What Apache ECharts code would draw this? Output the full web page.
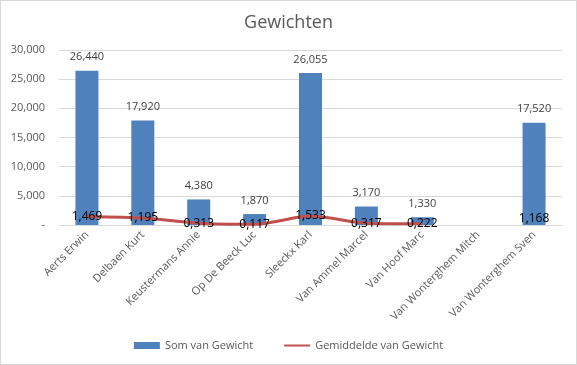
<!DOCTYPE html>
<html><head><meta charset="utf-8">
<script src="https://cdn.jsdelivr.net/npm/echarts@6/dist/echarts.min.js"></script>
<style>html,body{margin:0;padding:0;background:#fff}#c{width:575px;height:363px;border:1px solid #d9d9d9}</style>
</head><body><div id="c"></div>
<script>
const categories = ["Aerts Erwin","Delbaen Kurt","Keustermans Annie","Op De Beeck Luc","Sleeckx Karl","Van Ammel Marcel","Van Hoof Marc","Van Wonterghem Mitch","Van Wonterghem Sven"];
const somVanGewicht = [26440,17920,4380,1870,26055,3170,1330,null,17520];
const gemiddeldeVanGewicht = [1.469,1.195,0.313,0.117,1.533,0.317,0.222,null,1.168];
const yTicks = [0,5000,10000,15000,20000,25000,30000];

const chart = echarts.init(document.getElementById('c'));
const font = '"Open Sans", "Noto Sans", sans-serif';
chart.setOption({
  animation:false,
  textStyle:{fontFamily:font},
  title:{text:'Gewichten',left:'center',top:8,textStyle:{fontFamily:font,fontSize:18,fontWeight:'normal',color:'#595959'}},
  legend:{bottom:8,left:'center',itemGap:30,textStyle:{fontFamily:font,fontSize:11,color:'#595959'},
    data:[{name:'Som van Gewicht',icon:'rect'},{name:'Gemiddelde van Gewicht',itemStyle:{opacity:0}}],
    itemWidth:26,itemHeight:7},
  grid:{left:58,right:14,top:49,bottom:139},
  xAxis:{type:'category',data:categories,axisTick:{show:false},
    axisLine:{lineStyle:{color:'#d9d9d9'}},
    axisLabel:{rotate:45,interval:0,fontSize:11,color:'#595959',fontFamily:font,margin:8}},
  yAxis:[{type:'value',min:yTicks[0],max:yTicks[yTicks.length-1],interval:5000,
    axisLine:{show:false},axisTick:{show:false},
    splitLine:{lineStyle:{color:'#d9d9d9'}},
    axisLabel:{fontSize:11,color:'#595959',fontFamily:font,margin:14,
      formatter:v=>v===0?'-':v.toLocaleString('en-US')}},
    {type:'value',min:0,max:30,show:false,splitLine:{show:false}}],
  series:[
    {name:'Som van Gewicht',type:'bar',data:somVanGewicht,barWidth:23,itemStyle:{color:'#4F81BD'},
      label:{show:true,position:'top',distance:8,fontSize:11,color:'#404040',fontFamily:font,
        formatter:p=>p.value.toLocaleString('en-US')}},
    {name:'Gemiddelde van Gewicht',type:'line',yAxisIndex:1,data:gemiddeldeVanGewicht,
      smooth:0.25,showSymbol:true,symbol:'circle',symbolSize:0.1,connectNulls:false,
      lineStyle:{color:'#C0504D',width:3},itemStyle:{color:'#C0504D'},
      label:{show:true,position:'inside',fontSize:12,color:'#000',fontFamily:font,
        formatter:p=>p.value==null?'':p.value.toFixed(3).replace('.',',')}}
  ]
});
</script></body></html>
